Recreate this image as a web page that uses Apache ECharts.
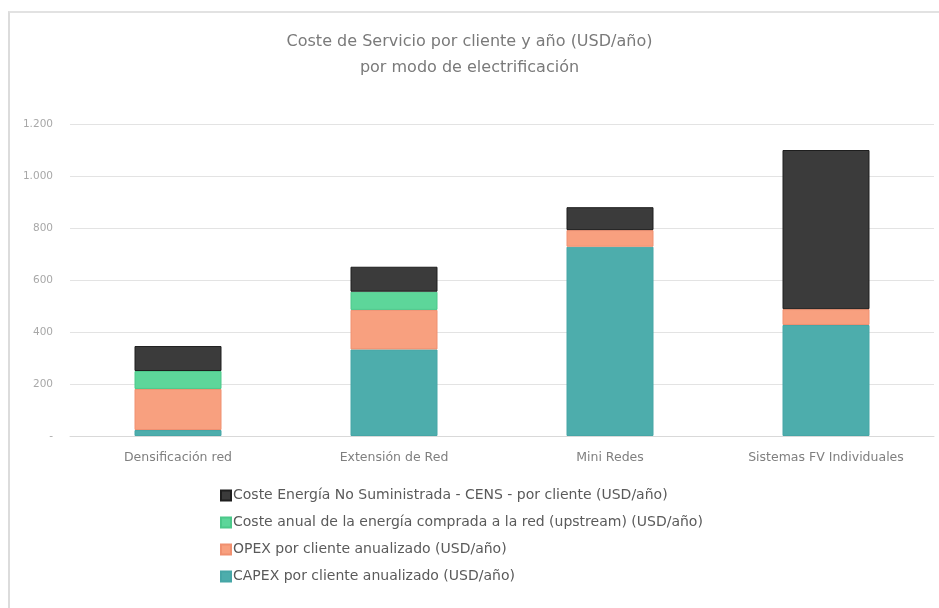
<!DOCTYPE html>
<html>
<head>
<meta charset="utf-8">
<script src="https://cdn.jsdelivr.net/npm/echarts@6/dist/echarts.min.js"></script>
<style>
  html, body { margin: 0; padding: 0; background: #fff; }
  #frame {
    position: absolute; left: 8px; top: 11px; width: 931px; height: 597px;
    border-left: 2px solid #dcdcdc; border-top: 2px solid #e2e2e2;
  }
  #main { position: absolute; left: 0; top: 0; width: 939px; height: 608px; }
</style>
</head>
<body>
<div id="frame"></div>
<div id="main"></div>
<script>
const categories = ['Densificación red', 'Extensión de Red', 'Mini Redes', 'Sistemas FV Individuales']
const capex = [23, 333, 728, 427]
const opex = [158, 152, 64, 61]
const energiaRed = [69, 70, 0, 0]
const cens = [96, 96, 88, 612]
const yTicks = [0, 200, 400, 600, 800, 1000, 1200]

const names = [
  'CAPEX por cliente anualizado (USD/año)',
  'OPEX por cliente anualizado (USD/año)',
  'Coste anual de la energía comprada a la red (upstream) (USD/año)',
  'Coste Energía No Suministrada - CENS - por cliente (USD/año)',
]
const colors = ['#4dadac', '#f8a07f', '#5dd69a', '#3b3b3b']
const borders = ['#46a6a6', '#f09070', '#4cc88a', '#1e1e1e']
const values = [capex, opex, energiaRed, cens]

const chart = echarts.init(document.getElementById('main'))
const option = {
  backgroundColor: 'transparent',
  title: {
    text: 'Coste de Servicio por cliente y año (USD/año)\npor modo de electrificación',
    left: 'center',
    top: 24,
    textStyle: { fontSize: 16, fontWeight: 'normal', color: '#7a7a7a', fontFamily: 'DejaVu Sans', lineHeight: 26 },
  },
  legend: {
    orient: 'vertical',
    left: 215,
    top: 483,
    itemWidth: 10,
    itemHeight: 10,
    itemGap: 12,
    icon: 'rect',
    data: [names[3], names[2], names[1], names[0]],
    textStyle: { fontSize: 14, lineHeight: 15, color: '#5a5a5a', fontFamily: 'DejaVu Sans', padding: [0, 0, 0, -3] },
  },
  grid: { left: 70, right: 5, top: 124, bottom: 172 },
  xAxis: {
    type: 'category',
    data: categories,
    axisLine: { lineStyle: { color: '#d9d9d9' } },
    axisTick: { show: false },
    axisLabel: { interval: 0, color: '#7f7f7f', fontSize: 12.5, margin: 15, fontFamily: 'DejaVu Sans' },
  },
  yAxis: {
    type: 'value',
    min: yTicks[0],
    max: yTicks[yTicks.length - 1],
    interval: 200,
    axisLine: { show: false },
    axisTick: { show: false },
    splitLine: { lineStyle: { color: '#e3e3e3' } },
    axisLabel: {
      color: '#a8a8a8',
      fontSize: 10.5,
      margin: 17,
      fontFamily: 'DejaVu Sans',
      formatter: (v) => (v === 0 ? '-' : v.toLocaleString('de-DE')),
    },
  },
  series: values.map((d, i) => ({
    name: names[i],
    type: 'bar',
    stack: 'total',
    barWidth: 87,
    data: d.map((v) => (v === 0 ? null : v)),
    itemStyle: { color: colors[i], borderColor: borders[i], borderWidth: 1 },
  })),
}
chart.setOption(option)
</script>
</body>
</html>
